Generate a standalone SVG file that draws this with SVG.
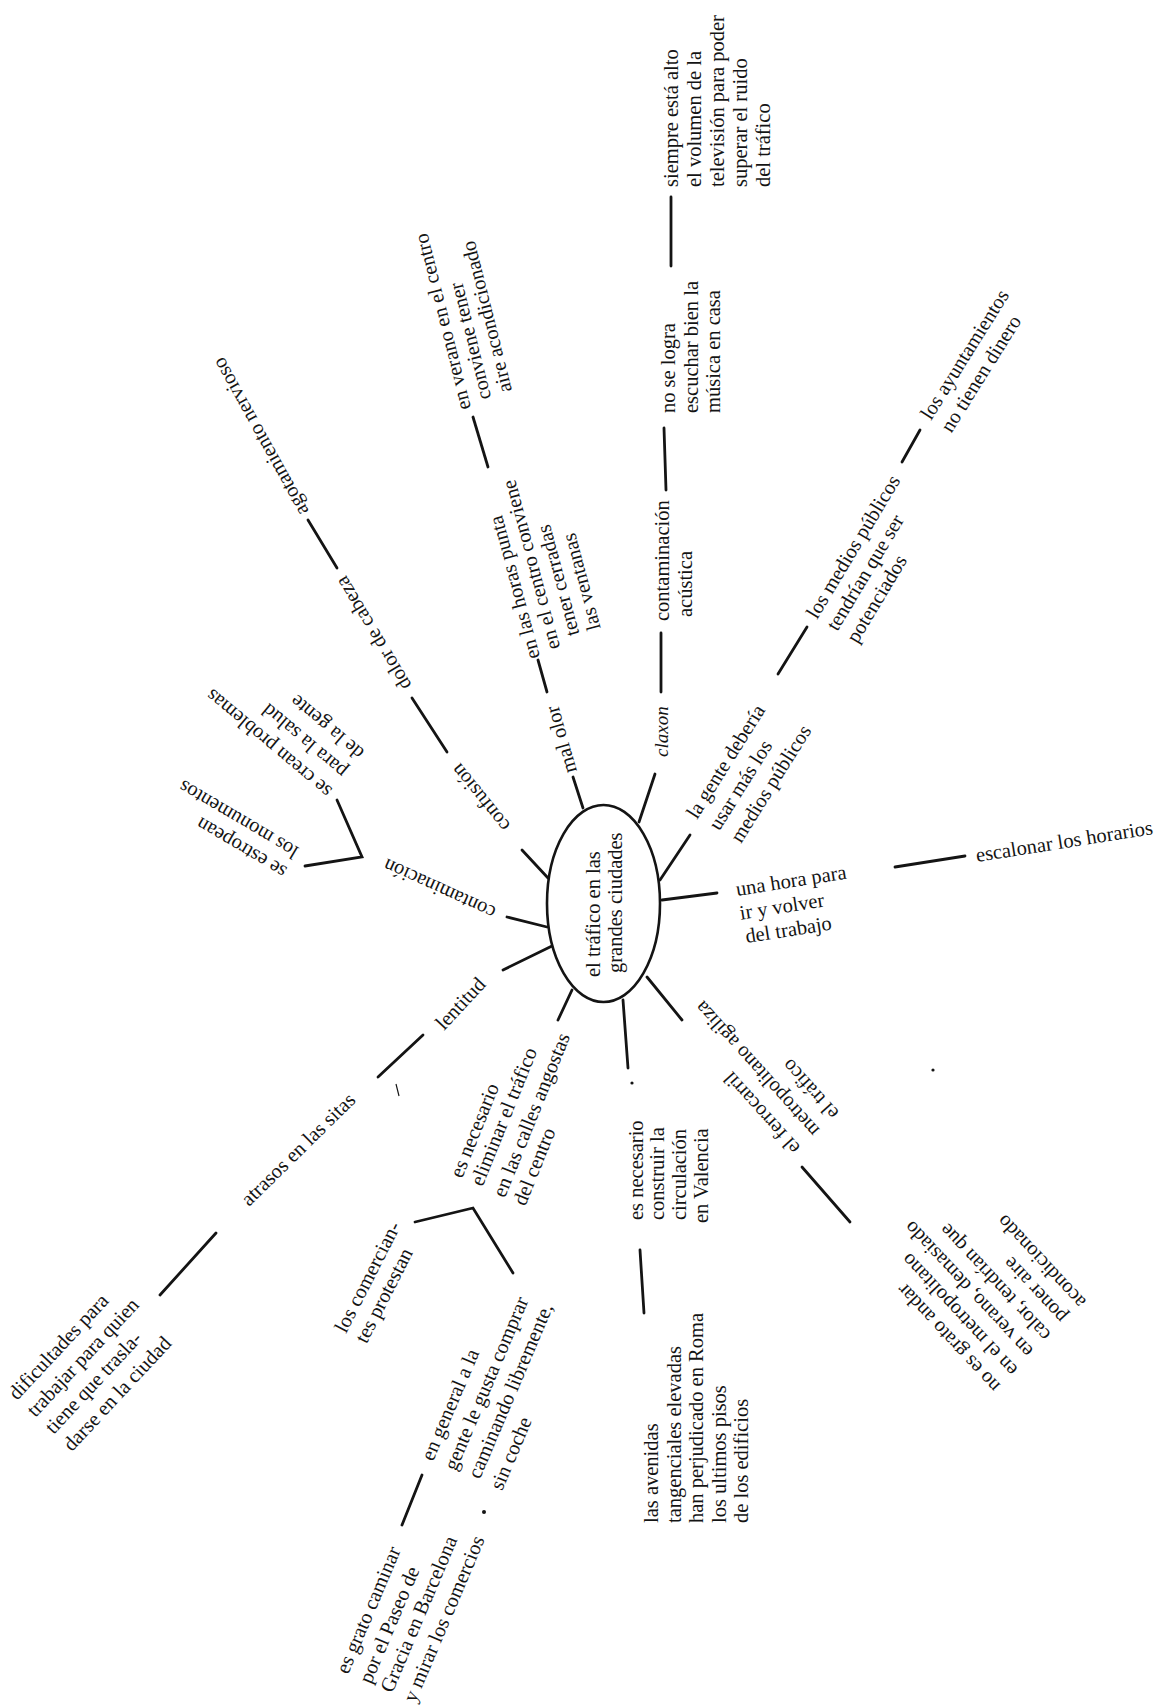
<svg xmlns="http://www.w3.org/2000/svg" width="1165" height="1706" viewBox="0 0 1165 1706">
  <style>
    text { font-family: "Liberation Serif", "Times New Roman", serif; font-size: 20.5px; fill: #141414; }
    .it { font-style: italic; font-size: 19px; }
    .ln { stroke: #141414; stroke-width: 2.8; stroke-linecap: round; fill: none; }
    .hub { stroke: #141414; stroke-width: 2.6; fill: #fff; }
  </style>
  <rect width="1165" height="1706" fill="#fff"/>

  <!-- connectors -->
  <g id="connectors">
    <!-- spokes leaving the central ellipse -->
    <line class="ln" x1="583" y1="808" x2="573" y2="777"/>
    <line class="ln" x1="639" y1="822" x2="655" y2="774"/>
    <line class="ln" x1="660" y1="880" x2="690" y2="835"/>
    <line class="ln" x1="662" y1="900" x2="717" y2="893"/>
    <line class="ln" x1="647" y1="977" x2="682" y2="1020"/>
    <line class="ln" x1="623" y1="1000" x2="628" y2="1068"/>
    <line class="ln" x1="572" y1="990" x2="558" y2="1020"/>
    <line class="ln" x1="552" y1="946" x2="503" y2="970"/>
    <line class="ln" x1="547" y1="927" x2="507" y2="917"/>
    <line class="ln" x1="548" y1="878" x2="522" y2="850"/>
    <!-- second-level links -->
    <line class="ln" x1="547" y1="692" x2="538" y2="660"/>
    <line class="ln" x1="488" y1="467" x2="473" y2="417"/>
    <line class="ln" x1="661" y1="692" x2="661" y2="633"/>
    <line class="ln" x1="666" y1="490" x2="664" y2="428"/>
    <line class="ln" x1="671" y1="266" x2="671" y2="197"/>
    <line class="ln" x1="778" y1="674" x2="807" y2="627"/>
    <line class="ln" x1="902" y1="462" x2="920" y2="430"/>
    <line class="ln" x1="895" y1="867" x2="965" y2="856"/>
    <line class="ln" x1="802" y1="1167" x2="850" y2="1222"/>
    <line class="ln" x1="640" y1="1250" x2="644" y2="1313"/>
    <polyline class="ln" points="415,1222 473,1208 513,1273"/>
    <line class="ln" x1="422" y1="1475" x2="402" y2="1525"/>
    <line class="ln" x1="423" y1="1035" x2="378" y2="1077"/>
    <line class="ln" x1="216" y1="1233" x2="160" y2="1295"/>
    <polyline class="ln" points="337,800 362,857 305,866"/>
    <line class="ln" x1="447" y1="752" x2="412" y2="698"/>
    <line class="ln" x1="337" y1="568" x2="308" y2="520"/>
  </g>

  <!-- central topic -->
  <g id="center">
    <ellipse class="hub" cx="603.5" cy="903.5" rx="56.5" ry="98.5"/>
    <text transform="translate(600,977) rotate(-90)"><tspan x="0" y="0">el tráfico en las</tspan><tspan x="4" y="22">grandes ciudades</tspan></text>
  </g>

  <g id="mal-olor">
    <text transform="translate(577,771) rotate(-106)">mal olor</text>
  </g>
  <g id="horas-punta">
    <text transform="translate(540,657) rotate(-105)"><tspan x="0" y="0">en las horas punta</tspan><tspan x="4" y="22">en el centro conviene</tspan><tspan x="12" y="44">tener cerradas</tspan><tspan x="12" y="66">las ventanas</tspan></text>
  </g>
  <g id="verano">
    <text transform="translate(471,408) rotate(-104)"><tspan x="0" y="0">en verano en el centro</tspan><tspan x="5" y="22">conviene tener</tspan><tspan x="7" y="44">aire acondicionado</tspan></text>
  </g>

  <g id="claxon">
    <text class="it" transform="translate(668,757) rotate(-90)">claxon</text>
  </g>
  <g id="contaminacion-acustica">
    <text transform="translate(669,621) rotate(-90)"><tspan x="0" y="0">contaminación</tspan><tspan x="4" y="23">acústica</tspan></text>
  </g>
  <g id="musica">
    <text transform="translate(675,413) rotate(-90)"><tspan x="0" y="0">no se logra</tspan><tspan x="0" y="23">escuchar bien la</tspan><tspan x="0" y="45">música en casa</tspan></text>
  </g>
  <g id="television">
    <text transform="translate(678,187) rotate(-90)"><tspan x="0" y="0">siempre está alto</tspan><tspan x="0" y="23">el volumen de la</tspan><tspan x="0" y="46">televisión para poder</tspan><tspan x="0" y="69">superar el ruido</tspan><tspan x="0" y="92">del tráfico</tspan></text>
  </g>

  <g id="medios-publicos">
    <text transform="translate(697,820) rotate(-58)"><tspan x="0" y="0">la gente debería</tspan><tspan x="2" y="25">usar más los</tspan><tspan x="3" y="50">medios públicos</tspan></text>
  </g>
  <g id="potenciados">
    <text transform="translate(817,620) rotate(-59)"><tspan x="0" y="0">los medios públicos</tspan><tspan x="0" y="23.5">tendrían que ser</tspan><tspan x="0" y="47">potenciados</tspan></text>
  </g>
  <g id="ayuntamientos">
    <text transform="translate(931,421) rotate(-58)"><tspan x="0" y="0">los ayuntamientos</tspan><tspan x="0" y="24">no tienen dinero</tspan></text>
  </g>

  <g id="una-hora">
    <text transform="translate(737,896) rotate(-9)"><tspan x="0" y="0">una hora para</tspan><tspan x="0" y="24">ir y volver</tspan><tspan x="2" y="48">del trabajo</tspan></text>
  </g>
  <g id="escalonar">
    <text transform="translate(977,862) rotate(-9)">escalonar los horarios</text>
  </g>

  <g id="ferrocarril">
    <text transform="translate(801,1147) rotate(-132)"><tspan x="0" y="0">el ferrocarril</tspan><tspan x="0" y="26">metropolitano agiliza</tspan><tspan x="0" y="52">el tráfico</tspan></text>
  </g>
  <g id="metropolitano-calor">
    <text transform="translate(1001,1385) rotate(-133)"><tspan x="0" y="0">no es grato andar</tspan><tspan x="0" y="24">en el metropolitano</tspan><tspan x="3" y="48">en verano, demasiado</tspan><tspan x="3" y="72">calor, tendrían que</tspan><tspan x="5" y="96">poner aire</tspan><tspan x="3" y="120">acondicionado</tspan></text>
  </g>

  <g id="valencia">
    <text transform="translate(643,1220) rotate(-90)"><tspan x="0" y="0">es necesario</tspan><tspan x="0" y="21">construir la</tspan><tspan x="0" y="43">circulación</tspan><tspan x="-3" y="65">en Valencia</tspan></text>
  </g>
  <g id="roma">
    <text transform="translate(658,1523) rotate(-90)"><tspan x="0" y="0">las avenidas</tspan><tspan x="0" y="22.5">tangenciales elevadas</tspan><tspan x="0" y="45">han perjudicado en Roma</tspan><tspan x="0" y="67.5">los ultimos pisos</tspan><tspan x="0" y="90">de los edificios</tspan></text>
  </g>

  <g id="calles-angostas">
    <text transform="translate(462,1179) rotate(-68)"><tspan x="0" y="0">es necesario</tspan><tspan x="0" y="22">eliminar el tráfico</tspan><tspan x="-2" y="47">en las calles angostas</tspan><tspan x="-2" y="69">del centro</tspan></text>
  </g>
  <g id="comerciantes">
    <text transform="translate(346,1334) rotate(-63)"><tspan x="0" y="0">los comercian-</tspan><tspan x="0" y="23">tes protestan</tspan></text>
  </g>
  <g id="comprar">
    <text transform="translate(433,1462) rotate(-67)"><tspan x="0" y="0">en general a la</tspan><tspan x="0" y="25">gente le gusta comprar</tspan><tspan x="2" y="50">caminando libremente,</tspan><tspan x="0" y="75">sin coche</tspan></text>
  </g>
  <g id="paseo-de-gracia">
    <text transform="translate(348,1675) rotate(-67)"><tspan x="0" y="0">es grato caminar</tspan><tspan x="0" y="25">por el Paseo de</tspan><tspan x="0" y="48">Gracia en Barcelona</tspan><tspan x="0" y="73">y mirar los comercios</tspan></text>
  </g>

  <g id="lentitud">
    <text transform="translate(444,1031) rotate(-47)">lentitud</text>
  </g>
  <g id="atrasos">
    <text transform="translate(249,1207) rotate(-44.5)">atrasos en las sitas</text>
  </g>
  <g id="dificultades">
    <text transform="translate(17,1401) rotate(-47)"><tspan x="0" y="0">dificultades para</tspan><tspan x="0" y="25">trabajar para quien</tspan><tspan x="0" y="50">tiene que trasla-</tspan><tspan x="0" y="75">darse en la ciudad</tspan></text>
  </g>

  <g id="contaminacion">
    <text transform="translate(497,908) rotate(-155.6)">contaminación</text>
  </g>
  <g id="salud">
    <text transform="translate(333,789) rotate(-140)"><tspan x="0" y="0">se crean problemas</tspan><tspan x="1" y="25">para la salud</tspan><tspan x="0" y="50">de la gente</tspan></text>
  </g>
  <g id="monumentos">
    <text transform="translate(288,868) rotate(-149.4)"><tspan x="0" y="0">se estropean</tspan><tspan x="0" y="23">los monumentos</tspan></text>
  </g>

  <g id="confusion">
    <text transform="translate(511,825) rotate(-129)">confusión</text>
  </g>
  <g id="dolor-de-cabeza">
    <text transform="translate(412,685) rotate(-121)">dolor de cabeza</text>
  </g>
  <g id="agotamiento">
    <text transform="translate(309,511) rotate(-119)">agotamiento nervioso</text>
  </g>

  <!-- stray pen marks -->
  <g fill="#141414">
    <circle cx="632" cy="1083" r="1.6"/>
    <circle cx="933" cy="1070" r="1.6"/>
    <circle cx="484" cy="1512" r="2"/>
    <path d="M396,1084 L399,1096" stroke="#141414" stroke-width="1.2"/>
  </g>
</svg>
